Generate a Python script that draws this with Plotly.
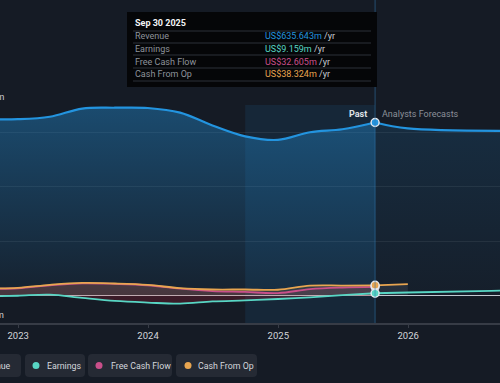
import plotly.graph_objects as go

# ---------------- data ----------------
past_dates = ['2022-09-30', '2022-12-31', '2023-03-31', '2023-06-30', '2023-09-30',
              '2023-12-31', '2024-03-31', '2024-06-30', '2024-09-30', '2024-12-31',
              '2025-03-31', '2025-06-30', '2025-09-30']
revenue_past = [648, 648, 657, 687, 690, 689, 672, 625, 585, 572, 600, 611, 635.643]
earnings_past = [-3, 0, 4, -8, -19, -25, -29, -21, -17, -12, -6, 2, 9.159]
fcf_past = [25.5, 27.5, 38, 45.5, 43.5, 38.5, 26, 17, 14, 10, 24, 30, 32.605]
cfo_past = [27, 29, 40, 47, 45, 40, 28, 23, 23, 22, 37, 37.5, 38.324]

fc_dates = ['2025-09-30', '2025-12-31', '2026-12-31', '2027-12-31']
revenue_fc = [635.643, 614, 604, 600]
earnings_fc = [9.159, 12, 21, 25]
cfo_fc_dates = ['2025-09-30', '2025-12-31']
cfo_fc = [38.324, 43]

x_ticks = ['2023-01-01', '2024-01-01', '2025-01-01', '2026-01-01']
x_tick_labels = ['2023', '2024', '2025', '2026']
y_labels = ['US$700m', '-US$100m']
tooltip_date = 'Sep 30 2025'
series_names = ['Revenue', 'Earnings', 'Free Cash Flow', 'Cash From Op']

# ---------------- style ----------------
W, H = 500, 383
PT, PB = 105, 323   # plot area top / bottom in px
BG = '#151b25'
C_REV = '#2394df'
C_EARN = '#58d6c4'
C_FCF = '#c94f8a'
C_CFO = '#e8a550'
FONT = 'Roboto'
colors = [C_REV, C_EARN, C_FCF, C_CFO]


def px(x):
    return x / W


def py(y):
    return (PB - y) / (PB - PT)


def rounded_rect(x0, y0, x1, y1, r):
    pts = (f"M {px(x0 + r)},{py(y0)} L {px(x1 - r)},{py(y0)} "
           f"Q {px(x1)},{py(y0)} {px(x1)},{py(y0 + r)} L {px(x1)},{py(y1 - r)} "
           f"Q {px(x1)},{py(y1)} {px(x1 - r)},{py(y1)} L {px(x0 + r)},{py(y1)} "
           f"Q {px(x0)},{py(y1)} {px(x0)},{py(y1 - r)} L {px(x0)},{py(y0 + r)} "
           f"Q {px(x0)},{py(y0)} {px(x0 + r)},{py(y0)} Z")
    return pts


fig = go.Figure()

# revenue areas
fig.add_trace(go.Scatter(
    x=past_dates, y=revenue_past, mode='lines', line=dict(width=0, shape='spline'),
    fill='tozeroy',
    fillgradient=dict(type='vertical', start=0, stop=700,
                      colorscale=[[0, 'rgba(35,148,223,0.05)'], [1, 'rgba(35,148,223,0.40)']]),
    hoverinfo='skip', showlegend=False))
fig.add_trace(go.Scatter(
    x=fc_dates, y=revenue_fc, mode='lines', line=dict(width=0, shape='spline'),
    fill='tozeroy',
    fillgradient=dict(type='vertical', start=0, stop=700,
                      colorscale=[[0, 'rgba(35,148,223,0.03)'], [1, 'rgba(35,148,223,0.16)']]),
    hoverinfo='skip', showlegend=False))

# other areas
fig.add_trace(go.Scatter(x=past_dates, y=cfo_past, mode='lines',
                         line=dict(width=0, shape='spline'), fill='tozeroy',
                         fillcolor='rgba(232,165,80,0.14)', hoverinfo='skip', showlegend=False))
fig.add_trace(go.Scatter(x=past_dates, y=fcf_past, mode='lines',
                         line=dict(width=0, shape='spline'), fill='tozeroy',
                         fillcolor='rgba(201,79,138,0.14)', hoverinfo='skip', showlegend=False))
fig.add_trace(go.Scatter(x=past_dates, y=earnings_past, mode='lines',
                         line=dict(width=0, shape='spline'), fill='tozeroy',
                         fillcolor='rgba(150,30,50,0.30)', hoverinfo='skip', showlegend=False))
fig.add_trace(go.Scatter(x=cfo_fc_dates, y=cfo_fc, mode='lines',
                         line=dict(width=0), fill='tozeroy',
                         fillcolor='rgba(200,200,210,0.10)', hoverinfo='skip', showlegend=False))

# lines
fig.add_trace(go.Scatter(x=past_dates, y=revenue_past, mode='lines',
                         line=dict(color=C_REV, width=2.2, shape='spline'), showlegend=False))
fig.add_trace(go.Scatter(x=fc_dates, y=revenue_fc, mode='lines',
                         line=dict(color=C_REV, width=2.2, shape='spline'), showlegend=False))
fig.add_trace(go.Scatter(x=past_dates, y=fcf_past, mode='lines',
                         line=dict(color=C_FCF, width=1.8, shape='spline'), showlegend=False))
fig.add_trace(go.Scatter(x=past_dates, y=cfo_past, mode='lines',
                         line=dict(color=C_CFO, width=1.8, shape='spline'), showlegend=False))
fig.add_trace(go.Scatter(x=cfo_fc_dates, y=cfo_fc, mode='lines',
                         line=dict(color=C_CFO, width=1.8), showlegend=False))
fig.add_trace(go.Scatter(x=past_dates, y=earnings_past, mode='lines',
                         line=dict(color=C_EARN, width=1.8, shape='spline'), showlegend=False))
fig.add_trace(go.Scatter(x=fc_dates, y=earnings_fc, mode='lines',
                         line=dict(color=C_EARN, width=1.8, shape='spline'), showlegend=False))

# hover markers at last past point
for vals, col in [(fcf_past, C_FCF), (cfo_past, C_CFO), (earnings_past, C_EARN), (revenue_past, C_REV)]:
    fig.add_trace(go.Scatter(x=[past_dates[-1]], y=[vals[-1]], mode='markers',
                             marker=dict(size=8, color=col, line=dict(color='#e6e9ee', width=1.4)),
                             showlegend=False))

shapes = []
annotations = []

# past highlight (last year)
shapes.append(dict(type='rect', xref='x', yref='paper', x0=past_dates[-5], x1=past_dates[-1],
                   y0=0, y1=1, fillcolor='rgba(35,148,223,0.10)', line=dict(width=0), layer='below'))
# divider line
shapes.append(dict(type='line', xref='x', yref='paper', x0=past_dates[-1], x1=past_dates[-1],
                   y0=0, y1=1.6, line=dict(color='rgba(50,120,175,0.55)', width=1)))

# Past / Analysts Forecasts labels
annotations.append(dict(x=past_dates[-1], y=py(114), xref='x', yref='paper', text='<b>Past</b>',
                        xanchor='right', yanchor='middle', xshift=-6, showarrow=False,
                        font=dict(family=FONT, size=9, color='#dfe2e6')))
annotations.append(dict(x=past_dates[-1], y=py(114), xref='x', yref='paper', text='Analysts Forecasts',
                        xanchor='left', yanchor='middle', xshift=5, showarrow=False,
                        font=dict(family=FONT, size=9, color='#8b9099')))

# cropped y labels
annotations.append(dict(x=0, y=700, xref='paper', yref='y', text=y_labels[0], xanchor='right',
                        yanchor='bottom', xshift=6, yshift=1, showarrow=False,
                        font=dict(family=FONT, size=9, color='#c9ccd2')))
annotations.append(dict(x=0, y=-100, xref='paper', yref='y', text=y_labels[1], xanchor='right',
                        yanchor='bottom', xshift=6, yshift=1, showarrow=False,
                        font=dict(family=FONT, size=9, color='#c9ccd2')))

# tooltip box
shapes.append(dict(type='rect', xref='paper', yref='paper', x0=px(127), x1=px(377),
                   y0=py(87), y1=py(12), fillcolor='#050608', line=dict(width=0)))
for sy in [31, 43, 55, 68, 81]:
    shapes.append(dict(type='line', xref='paper', yref='paper', x0=px(133), x1=px(371),
                       y0=py(sy), y1=py(sy), line=dict(color='#2c3038', width=1)))
annotations.append(dict(x=px(133), y=py(23), xref='paper', yref='paper', text=f'<b>{tooltip_date}</b>',
                        xanchor='left', yanchor='middle', showarrow=False,
                        font=dict(family=FONT, size=9, color='#f2f3f5')))
latest = [revenue_past[-1], earnings_past[-1], fcf_past[-1], cfo_past[-1]]
for i, (name, val, col) in enumerate(zip(series_names, latest, colors)):
    ry = [36.5, 49, 61.5, 74][i]
    annotations.append(dict(x=px(133), y=py(ry), xref='paper', yref='paper', text=name,
                            xanchor='left', yanchor='middle', showarrow=False,
                            font=dict(family=FONT, size=9, color='#8e939b')))
    annotations.append(dict(x=px(263), y=py(ry), xref='paper', yref='paper',
                            text=f"<span style='color:{col}'>US${val:.3f}m</span> /yr",
                            xanchor='left', yanchor='middle', showarrow=False,
                            font=dict(family=FONT, size=9, color='#c9ccd2')))

# legend pills
pills = [(-60, 21, -40, None), (25, 85, 36, 45), (88, 172, 99, 109), (176, 257, 188, 196)]
for (x0, x1, dotx, tx), name, col in zip(pills, series_names, colors):
    shapes.append(dict(type='path', xref='paper', yref='paper', path=rounded_rect(x0, 354, x1, 377, 4),
                       fillcolor='#252a34', line=dict(width=0)))
    shapes.append(dict(type='circle', xref='paper', yref='paper', x0=px(dotx - 3.5), x1=px(dotx + 3.5),
                       y0=py(369), y1=py(362), fillcolor=col, line=dict(width=0)))
    if tx is None:
        annotations.append(dict(x=px(13), y=py(365.5), xref='paper', yref='paper', text=name,
                                xanchor='right', yanchor='middle', showarrow=False,
                                font=dict(family=FONT, size=8.8, color='#d3d6db')))
    else:
        annotations.append(dict(x=px(tx), y=py(365.5), xref='paper', yref='paper', text=name,
                                xanchor='left', yanchor='middle', showarrow=False,
                                font=dict(family=FONT, size=8.8, color='#d3d6db')))

fig.update_layout(
    width=W, height=H,
    margin=dict(l=0, r=0, t=PT, b=H - PB, pad=0),
    paper_bgcolor=BG, plot_bgcolor=BG,
    shapes=shapes, annotations=annotations,
    showlegend=False, hovermode=False,
    font=dict(family=FONT, size=9, color='#c9ccd2'),
    xaxis=dict(type='date', range=['2022-11-11', '2026-09-16'],
               tickvals=x_ticks, ticktext=x_tick_labels,
               showgrid=False, zeroline=False,
               showline=True, linecolor='#373c46', linewidth=2,
               ticks='outside', ticklen=3, tickcolor='#373c46',
               tickfont=dict(family=FONT, size=9.5, color='#d3d6db')),
    yaxis=dict(range=[-100, 700], tickvals=[200, 400, 600, 700], showticklabels=False,
               gridcolor='rgba(255,255,255,0.07)', gridwidth=1,
               zeroline=True, zerolinecolor='#c6cad1', zerolinewidth=1,
               showline=False),
)

fig.write_html('out.html', config={'displayModeBar': False},
               post_script="document.body.style.margin='0';document.body.style.background='#151b25';")
